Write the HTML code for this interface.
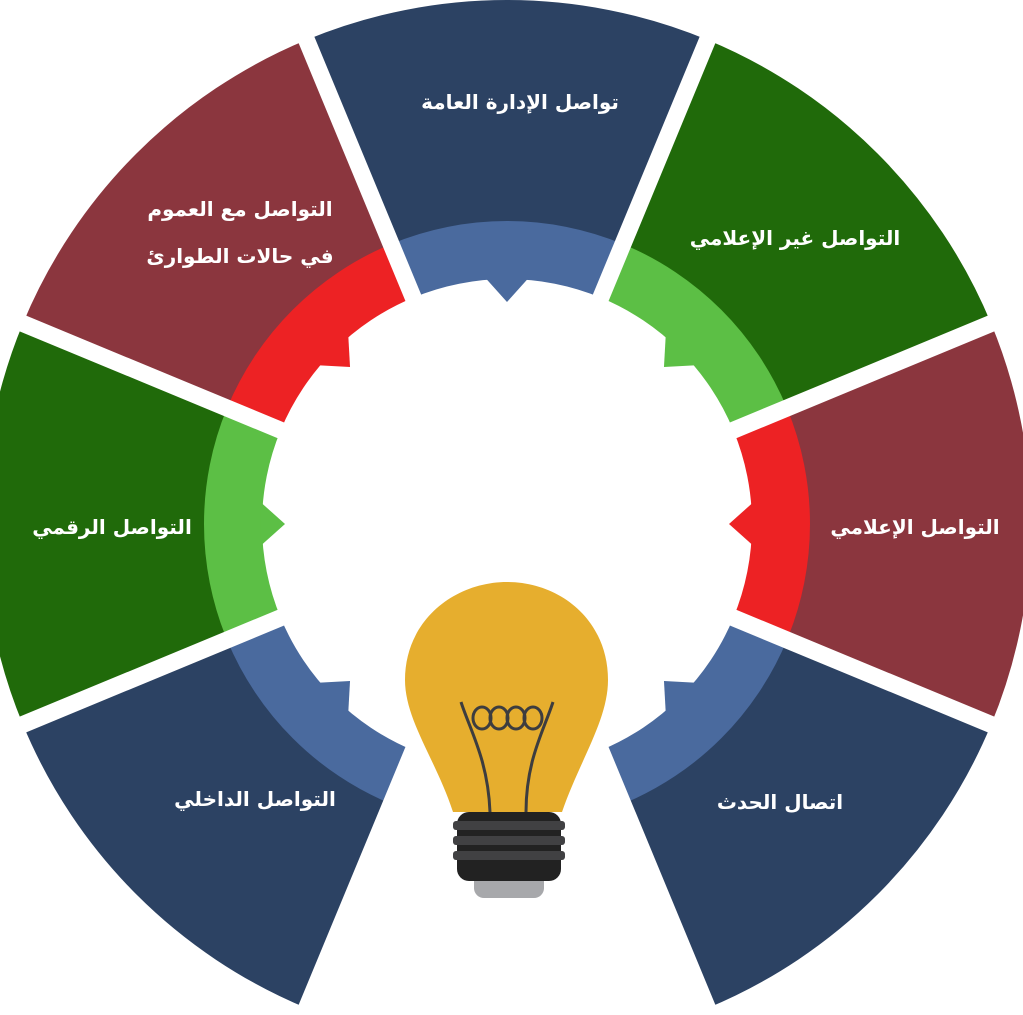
<!DOCTYPE html>
<html><head><meta charset="utf-8"><style>
html,body{margin:0;padding:0;background:#fff;}
svg{display:block}
text{font-family:"DejaVu Sans","Liberation Sans",sans-serif;font-weight:bold;fill:#fff;font-size:20px;text-anchor:middle}
</style></head><body>
<svg id="s" width="1023" height="1015" viewBox="0 0 1023 1015" xmlns="http://www.w3.org/2000/svg">
<g id="g"></g>
<g id="bulb">
<path d="M507,582 C560,582 608,620 608,680 C608,720 580,760 562,812 L453,812 C436,760 405,720 405,680 C405,620 455,582 507,582 Z" fill="#e6ae2e"/>
<path d="M461,702 C470,730 488,760 490,812 M553,702 C544,730 526,760 526,812" stroke="#3d3d3f" stroke-width="3" fill="none"/>
<g fill="none" stroke="#3d3d3f" stroke-width="3">
<ellipse cx="482" cy="718" rx="9" ry="11"/><ellipse cx="499" cy="718" rx="9" ry="11"/><ellipse cx="516" cy="718" rx="9" ry="11"/><ellipse cx="533" cy="718" rx="9" ry="11"/>
</g>
<rect x="474" y="870" width="70" height="28" rx="10" fill="#a7a8ab"/>
<rect x="457" y="812" width="104" height="69" rx="12" fill="#222"/>
<rect x="453" y="821" width="112" height="9" rx="3" fill="#414143"/>
<rect x="453" y="836" width="112" height="9" rx="3" fill="#414143"/>
<rect x="453" y="851" width="112" height="9" rx="3" fill="#414143"/>
</g>
<text x="520" y="109">تواصل الإدارة العامة</text>
<text x="795" y="245">التواصل غير الإعلامي</text>
<text x="915" y="534">التواصل الإعلامي</text>
<text x="780" y="809">اتصال الحدث</text>
<text x="255" y="806">التواصل الداخلي</text>
<text x="112" y="534">التواصل الرقمي</text>
<text x="240" y="216">التواصل مع العموم</text>
<text x="240" y="263">في حالات الطوارئ</text>
</svg>
<script>
var cx=507,cy=524,NS="http://www.w3.org/2000/svg",g=document.getElementById('g');
function P(r,a){a=a*Math.PI/180;return [cx+r*Math.sin(a),cy-r*Math.cos(a)];}
function sector(r1,r2,a1,a2,fill){
 var p1=P(r2,a1),p2=P(r2,a2),p3=P(r1,a2),p4=P(r1,a1);
 var d="M"+p1+" A"+r2+","+r2+" 0 0 1 "+p2+" L"+p3+" A"+r1+","+r1+" 0 0 0 "+p4+"Z";
 var e=document.createElementNS(NS,'path');e.setAttribute('d',d);e.setAttribute('fill',fill);g.appendChild(e);}
function poly(pts,fill){var e=document.createElementNS(NS,'polygon');e.setAttribute('points',pts.map(function(p){return p.join(',')}).join(' '));e.setAttribute('fill',fill);g.appendChild(e);}
var segs=[[0,'#2c4263','#4a6a9e'],[45,'#206a0a','#5cbf45'],[90,'#8b363e','#ed2224'],[135,'#2c4263','#4a6a9e'],[225,'#2c4263','#4a6a9e'],[270,'#206a0a','#5cbf45'],[315,'#8b363e','#ed2224']];
segs.forEach(function(s){
 sector(295,524,s[0]-22.5,s[0]+22.5,s[1]);
 sector(245,303,s[0]-22.5,s[0]+22.5,s[2]);
 poly([P(247,s[0]-5),P(222,s[0]),P(247,s[0]+5)],s[2]);
});
for(var k=0;k<8;k++){var a=22.5+45*k;var p=P(200,a),q=P(560,a);
 var l=document.createElementNS(NS,'line');l.setAttribute('x1',p[0]);l.setAttribute('y1',p[1]);l.setAttribute('x2',q[0]);l.setAttribute('y2',q[1]);l.setAttribute('stroke','#fff');l.setAttribute('stroke-width','17');g.appendChild(l);}
</script>
</body></html>
